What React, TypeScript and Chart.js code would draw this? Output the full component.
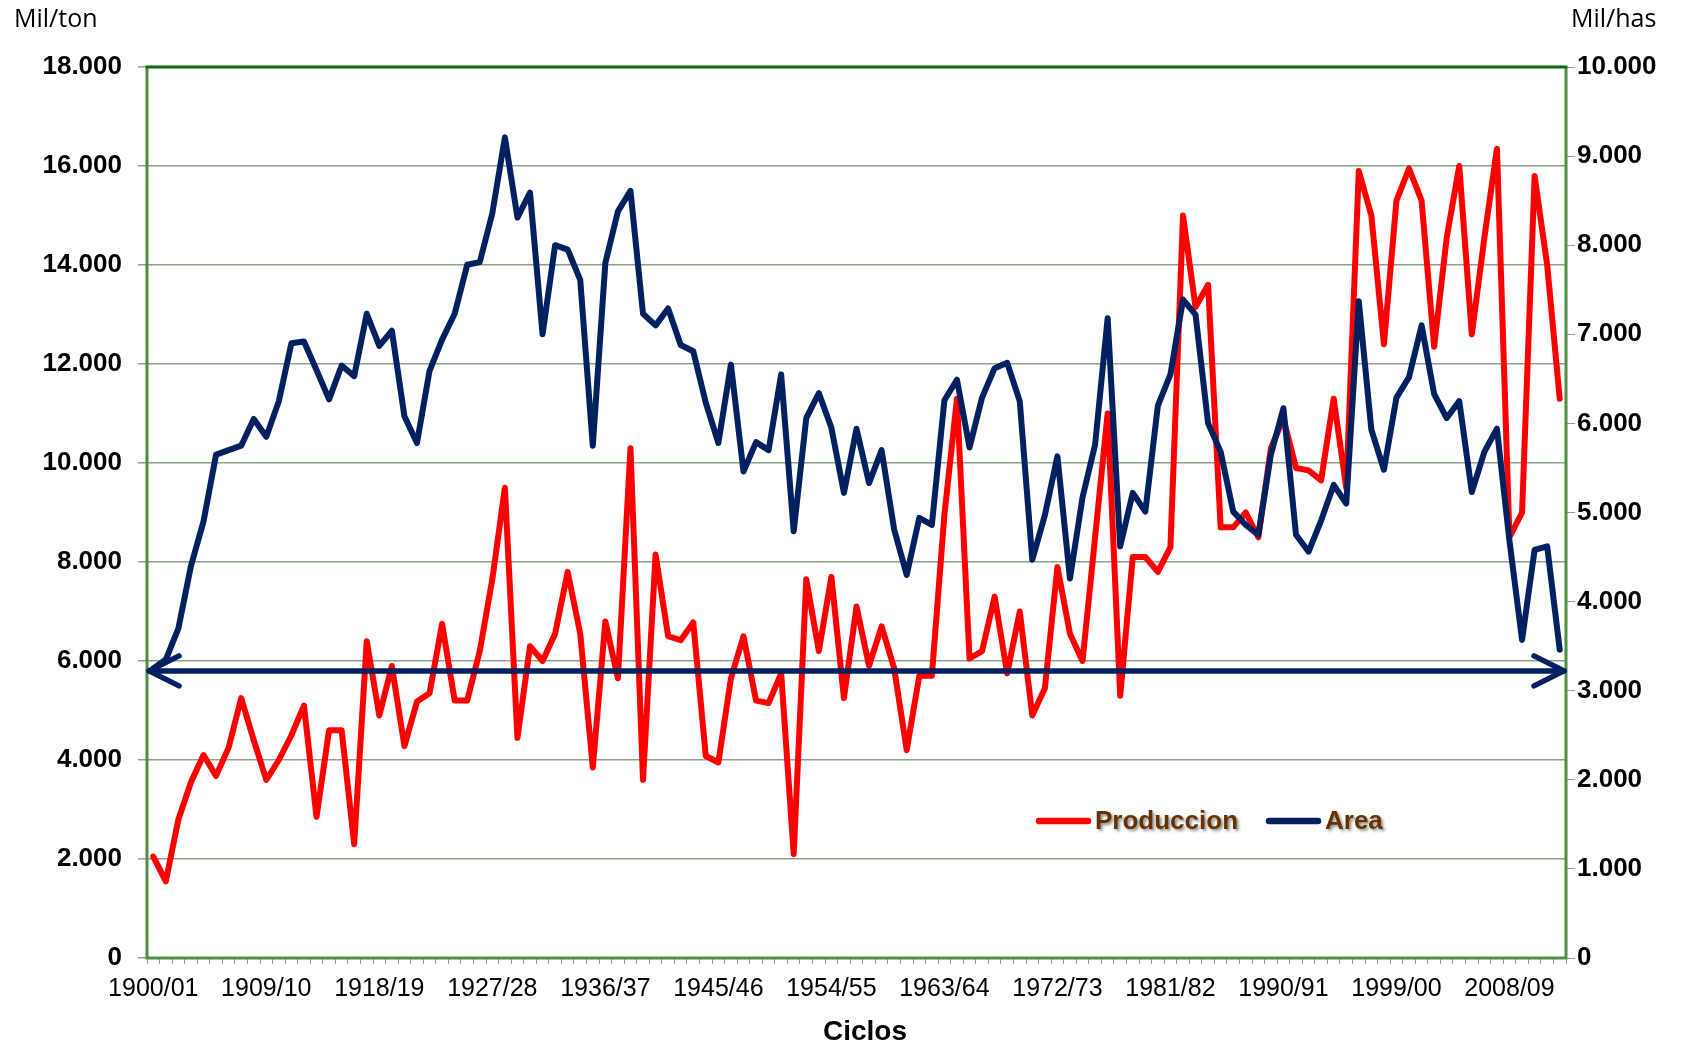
import React, { useEffect, useRef } from 'react';
import { Chart, registerables } from 'chart.js';

Chart.register(...registerables);

const START_YEAR = 1900;
const N_CYCLES = 113;
const CATEGORIES: string[] = [];
for (let k = 0; k < N_CYCLES; k++) {
  const y = START_YEAR + k;
  CATEGORIES.push(`${y}/${String((y + 1) % 100).padStart(2, '0')}`);
}

const PRODUCCION = [
  2050, 1550, 2800, 3550, 4100, 3680, 4250, 5250, 4400, 3600,
  4000, 4500, 5100, 2850, 4600, 4600, 2300, 6400, 4900, 5900,
  4280, 5180, 5350, 6750, 5200, 5200, 6200, 7650, 9500, 4450,
  6300, 6000, 6550, 7800, 6550, 3850, 6800, 5650, 10300, 3600,
  8150, 6500, 6420, 6780, 4080, 3950, 5650, 6500, 5200, 5150,
  5750, 2100, 7650, 6200, 7700, 5250, 7100, 5900, 6700, 5850,
  4200, 5700, 5700, 8950, 11300, 6050, 6200, 7300, 5750, 7000,
  4900, 5450, 7900, 6550, 6000, 8500, 11000, 5300, 8100, 8100,
  7800, 8300, 15000, 13150, 13600, 8700, 8700, 9000, 8500, 10300,
  10900, 9900, 9850, 9650, 11300, 9500, 15900, 15000, 12400, 15300,
  15950, 15300, 12350, 14550, 16000, 12600, 14550, 16350, 8500, 9000,
  15800, 14000, 11300,
];

const AREA = [
  3250, 3350, 3700, 4400, 4900, 5650, 5700, 5750, 6050, 5850,
  6250, 6900, 6920, 6600, 6270, 6650, 6530, 7230, 6870, 7040,
  6080, 5780, 6590, 6940, 7230, 7780, 7810, 8360, 9210, 8310,
  8590, 7000, 8000, 7950, 7610, 5750, 7800, 8380, 8610, 7230,
  7100, 7290, 6880, 6810, 6230, 5780, 6660, 5460, 5790, 5700,
  6550, 4790, 6060, 6340, 5950, 5220, 5940, 5330, 5700, 4810,
  4300, 4940, 4860, 6260, 6490, 5730, 6290, 6620, 6680, 6250,
  4470, 4970, 5630, 4260, 5170, 5760, 7180, 4620, 5220, 5010,
  6200, 6550, 7390, 7220, 6000, 5680, 5010, 4860, 4750, 5650,
  6170, 4750, 4560, 4910, 5310, 5100, 7370, 5930, 5480, 6290,
  6520, 7100, 6330, 6060, 6250, 5230, 5680, 5940, 4680, 3570,
  4580, 4620, 3460,
];

const REFERENCE_LEVEL = 5800; // Mil/ton, horizontal double arrow
const LEFT_MAX = 18000;
const LEFT_STEP = 2000;
const RIGHT_MAX = 10000;
const RIGHT_STEP = 1000;
const LABEL_EVERY = 9;
const LEFT_UNIT = 'Mil/ton';
const RIGHT_UNIT = 'Mil/has';
const X_TITLE = 'Ciclos';
const SERIES_NAMES = ['Produccion', 'Area'];

const RED = '#FF0000';
const NAVY = '#002060';
const GRID = '#8fa386';
const SANS = "'Liberation Sans', Arial, sans-serif";

const fmt = (v: number) =>
  Math.round(v).toString().replace(/\B(?=(\d{3})+(?!\d))/g, '.');

const decor = {
  id: 'decor',
  beforeDatasetsDraw(chart: any) {
    const { ctx, chartArea: a } = chart;
    ctx.save();
    ctx.lineCap = 'butt';
    ctx.strokeStyle = '#4f8f40';
    ctx.lineWidth = 3;
    ctx.beginPath();
    ctx.moveTo(a.left, a.top);
    ctx.lineTo(a.left, a.bottom);
    ctx.lineTo(a.right, a.bottom);
    ctx.lineTo(a.right, a.top);
    ctx.stroke();
    ctx.strokeStyle = '#0b6a0b';
    ctx.beginPath();
    ctx.moveTo(a.left - 1.5, a.top);
    ctx.lineTo(a.right + 1.5, a.top);
    ctx.stroke();
    ctx.restore();
  },
  afterDatasetsDraw(chart: any) {
    const { ctx, chartArea: a, scales } = chart;
    const y = scales.y.getPixelForValue(REFERENCE_LEVEL);
    ctx.save();
    ctx.strokeStyle = NAVY;
    ctx.lineWidth = 5.5;
    ctx.lineCap = 'round';
    ctx.lineJoin = 'round';
    ctx.beginPath();
    ctx.moveTo(a.left + 2, y);
    ctx.lineTo(a.right - 2, y);
    ctx.stroke();
    ctx.beginPath();
    ctx.moveTo(a.left + 32, y - 15);
    ctx.lineTo(a.left + 2, y);
    ctx.lineTo(a.left + 32, y + 15);
    ctx.stroke();
    ctx.beginPath();
    ctx.moveTo(a.right - 32, y - 15);
    ctx.lineTo(a.right - 2, y);
    ctx.lineTo(a.right - 32, y + 15);
    ctx.stroke();
    ctx.restore();
  },
  afterDraw(chart: any) {
    const { ctx } = chart;
    ctx.save();
    ctx.fillStyle = '#000';
    ctx.textBaseline = 'middle';
    ctx.font = "25px 'Open Sans', Arial, sans-serif";
    ctx.textAlign = 'left';
    ctx.fillText(LEFT_UNIT, 14, 20);
    ctx.fillText(RIGHT_UNIT, 1571, 20);
    ctx.font = `bold 28px ${SANS}`;
    ctx.textAlign = 'center';
    ctx.fillText(X_TITLE, 865, 1032);

    // legend
    const ly = 821;
    const items = [
      { color: RED, x0: 1039, x1: 1088, tx: 1095 },
      { color: NAVY, x0: 1269, x1: 1318, tx: 1325 },
    ];
    items.forEach((it, k) => {
      ctx.strokeStyle = it.color;
      ctx.lineWidth = 6.5;
      ctx.lineCap = 'round';
      ctx.beginPath();
      ctx.moveTo(it.x0, ly);
      ctx.lineTo(it.x1, ly);
      ctx.stroke();
      ctx.save();
      ctx.shadowColor = 'rgba(0,0,0,0.45)';
      ctx.shadowOffsetX = 2;
      ctx.shadowOffsetY = 2;
      ctx.shadowBlur = 3;
      ctx.fillStyle = '#663300';
      ctx.font = `bold 26px ${SANS}`;
      ctx.textAlign = 'left';
      ctx.fillText(SERIES_NAMES[k], it.tx, ly + 1);
      ctx.restore();
    });
    ctx.restore();
  },
};

export default function App() {
  const ref = useRef<HTMLCanvasElement | null>(null);

  useEffect(() => {
    const canvas = ref.current;
    if (!canvas) return;
    const chart = new Chart(canvas, {
      type: 'line',
      data: {
        labels: CATEGORIES,
        datasets: [
          {
            label: SERIES_NAMES[0],
            data: PRODUCCION,
            yAxisID: 'y',
            borderColor: RED,
            backgroundColor: RED,
            borderWidth: 6,
            pointRadius: 0,
            tension: 0,
            borderJoinStyle: 'round',
            borderCapStyle: 'round',
            order: 1,
          },
          {
            label: SERIES_NAMES[1],
            data: AREA,
            yAxisID: 'y2',
            borderColor: NAVY,
            backgroundColor: NAVY,
            borderWidth: 6,
            pointRadius: 0,
            tension: 0,
            borderJoinStyle: 'round',
            borderCapStyle: 'round',
            order: 0,
          },
        ],
      },
      options: {
        animation: false,
        responsive: true,
        maintainAspectRatio: false,
        layout: { padding: { top: 67, left: 0, right: 0, bottom: 0 } },
        plugins: {
          legend: { display: false },
          tooltip: { enabled: false },
        },
        scales: {
          x: {
            type: 'category',
            offset: true,
            afterFit: (s: any) => { s.height = 87; },
            grid: {
              offset: true,
              drawOnChartArea: false,
              drawTicks: true,
              tickLength: 6,
              tickColor: GRID,
              color: GRID,
            },
            border: { display: false },
            ticks: {
              autoSkip: false,
              maxRotation: 0,
              minRotation: 0,
              padding: 10,
              color: '#000',
              font: { family: SANS, size: 25 },
              callback: (_v: any, i: number) => (i % LABEL_EVERY === 0 ? CATEGORIES[i] : ''),
            },
          },
          y: {
            position: 'left',
            min: 0,
            max: LEFT_MAX,
            afterFit: (s: any) => { s.width = 147; },
            grid: {
              color: GRID,
              lineWidth: 1.5,
              drawTicks: true,
              tickLength: 9,
              tickColor: GRID,
            },
            border: { display: false },
            ticks: {
              stepSize: LEFT_STEP,
              padding: 16,
              color: '#000',
              font: { family: SANS, size: 26, weight: 'bold' },
              callback: (v: any) => fmt(Number(v)),
            },
          },
          y2: {
            position: 'right',
            min: 0,
            max: RIGHT_MAX,
            afterFit: (s: any) => { s.width = 120; },
            grid: {
              drawOnChartArea: false,
              drawTicks: true,
              tickLength: 9,
              tickColor: GRID,
              color: GRID,
            },
            border: { display: false },
            ticks: {
              stepSize: RIGHT_STEP,
              padding: 2,
              color: '#000',
              font: { family: SANS, size: 26, weight: 'bold' },
              callback: (v: any) => fmt(Number(v)),
            },
          },
        },
      },
      plugins: [decor],
    });
    return () => chart.destroy();
  }, []);

  return (
    <div
      style={{
        position: 'fixed',
        left: 0,
        top: 0,
        width: 1686,
        height: 1045,
        background: '#ffffff',
      }}
    >
      <canvas ref={ref} />
    </div>
  );
}
